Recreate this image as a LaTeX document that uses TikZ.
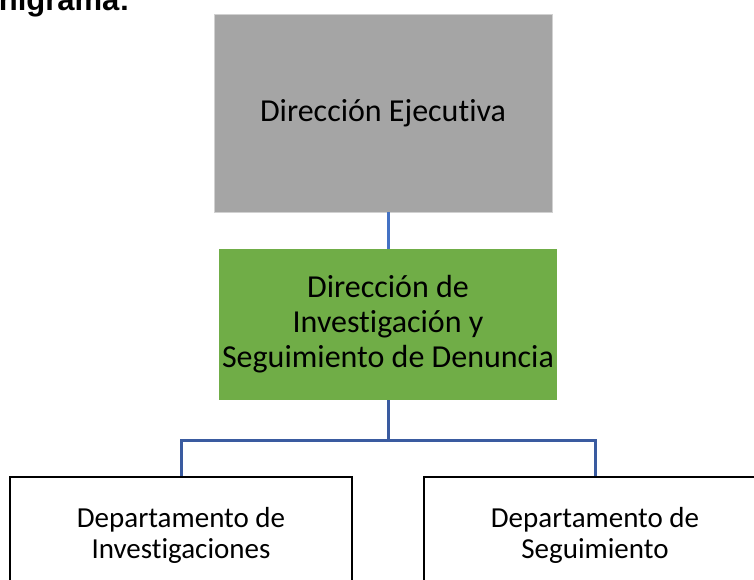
\documentclass[tikz,border=0pt]{standalone}
\usepackage{fontspec}
\setmainfont{Carlito}[Ligatures=NoCommon]
\newfontfamily\titlefont{Liberation Sans}
\usepackage{tikz}
\usetikzlibrary{positioning,calc}
\definecolor{boxgray}{HTML}{A5A5A5}
\definecolor{boxgreen}{HTML}{70AD47}
\definecolor{linkup}{HTML}{4472C4}
\definecolor{linkdown}{HTML}{3A5BA0}

\begin{document}
\begin{tikzpicture}[
  x=1pt,y=-1pt,
  unit/.style={rectangle,align=center,inner sep=2pt,
    font=\fontsize{32}{35}\selectfont},
  dept/.style={rectangle,draw=black,line width=2pt,align=center,
    minimum width=342pt,minimum height=116pt,
    font=\fontsize{29}{31}\selectfont},
  conn/.style={line width=3pt}
]
  \useasboundingbox (0,0) rectangle (754,580);
  \clip (0,0) rectangle (754,580);
  % title, cut at the edge
  \node[anchor=base east,inner sep=0pt,font=\titlefont\bfseries\fontsize{31}{34}\selectfont]
    (title) at (130,10.5) {Organigrama:};
  % boxes
  \node[unit,fill=boxgray,draw=black!18,minimum width=338pt,minimum height=198pt]
    (dirEje) at (383,113) {Dirección Ejecutiva};
  \node[unit,fill=boxgreen,minimum width=338pt,minimum height=151pt]
    (dirInv) at (388,324.5) {Dirección de\\ Investigación y\\ Seguimiento de Denuncia};
  \node[dept] (depInv) at (181,535) {Departamento de\\ Investigaciones};
  \node[dept] (depSeg) at (595,535) {Departamento de\\ Seguimiento};
  % links
  \draw[conn,linkup] (dirEje.south -| dirInv.north) -- (dirInv.north);
  \draw[conn,linkdown] (dirInv.south) -- ++(0,40) -| (depInv.north);
  \draw[conn,linkdown] (dirInv.south) -- ++(0,40) -| (depSeg.north);
\end{tikzpicture}
\end{document}
